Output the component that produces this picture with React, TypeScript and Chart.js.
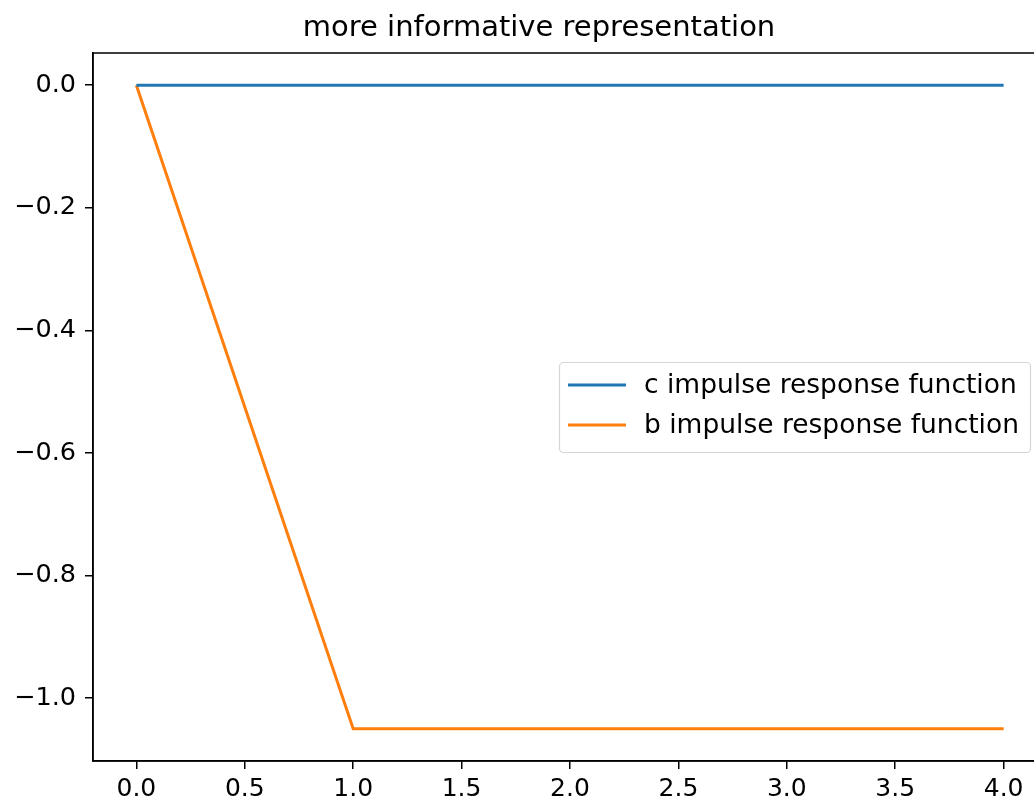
import React, { useEffect, useRef } from "react";
import { Chart, registerables } from "chart.js";

Chart.register(...registerables);

const xValues = [0, 1, 2, 3, 4];
const cValues = [0, 0, 0, 0, 0];
const bValues = [0, -1.05, -1.05, -1.05, -1.05];
const xTicks = [0, 0.5, 1, 1.5, 2, 2.5, 3, 3.5, 4];
const yTicks = [0, -0.2, -0.4, -0.6, -0.8, -1.0];
const seriesLabels = ["c impulse response function", "b impulse response function"];
const seriesColors = ["#1f77b4", "#ff7f0e"];
const titleText = "more informative representation";

const FONT = "'DejaVu Sans', sans-serif";
const CW = 1060;
const CH = 809;

const fmt = (v: number) => {
  const s = Math.abs(v).toFixed(1);
  return v < -1e-9 ? "\u2212" + s : s;
};

const framePlugin = {
  id: "frame",
  afterDraw(chart: any) {
    const { ctx, chartArea } = chart;
    ctx.save();
    ctx.strokeStyle = "#000";
    ctx.lineWidth = 1.5;
    ctx.strokeRect(chartArea.left, chartArea.top, chartArea.right - chartArea.left, chartArea.bottom - chartArea.top);
    // title
    ctx.fillStyle = "#000";
    ctx.font = `29px ${FONT}`;
    ctx.textAlign = "center";
    ctx.textBaseline = "alphabetic";
    ctx.fillText(titleText, 539, 36);
    // legend
    const bx = 559.5, by = 362.5, bw = 471, bh = 90;
    ctx.beginPath();
    ctx.roundRect(bx, by, bw, bh, 4);
    ctx.fillStyle = "rgba(255,255,255,0.8)";
    ctx.fill();
    ctx.strokeStyle = "#d6d6d6";
    ctx.lineWidth = 1.2;
    ctx.stroke();
    chart.data.datasets.forEach((ds: any, i: number) => {
      const y = 385 + i * 40;
      ctx.beginPath();
      ctx.moveTo(568, y);
      ctx.lineTo(626, y);
      ctx.strokeStyle = ds.borderColor;
      ctx.lineWidth = 3;
      ctx.stroke();
      ctx.fillStyle = "#000";
      ctx.font = `26.5px ${FONT}`;
      ctx.textAlign = "left";
      ctx.textBaseline = "middle";
      ctx.fillText(ds.label, 644, y + 1);
    });
    ctx.restore();
  },
};

export default function App() {
  const ref = useRef<HTMLCanvasElement | null>(null);
  useEffect(() => {
    if (!ref.current) return;
    const chart = new Chart(ref.current, {
      type: "line",
      data: {
        datasets: [cValues, bValues].map((vals, i) => ({
          label: seriesLabels[i],
          data: xValues.map((x, j) => ({ x, y: vals[j] })),
          borderColor: seriesColors[i],
          backgroundColor: seriesColors[i],
          borderWidth: 3,
          pointRadius: 0,
          tension: 0,
          fill: false,
        })),
      },
      options: {
        responsive: false,
        animation: false,
        devicePixelRatio: 1,
        layout: { padding: { top: 53, right: CW - 1047, bottom: 0, left: 0 } },
        plugins: { legend: { display: false }, title: { display: false }, tooltip: { enabled: false } },
        scales: {
          x: {
            type: "linear",
            min: -0.2,
            max: 4.2,
            afterBuildTicks: (s: any) => {
              s.ticks = xTicks.map((v) => ({ value: v }));
            },
            afterFit: (s: any) => {
              s.height = CH - 761;
            },
            ticks: {
              autoSkip: false,
              maxRotation: 0,
              color: "#000",
              padding: 5,
              font: { family: FONT, size: 25 },
              callback: (v: any) => fmt(Number(v)),
            },
            grid: { drawOnChartArea: false, drawTicks: true, tickLength: 8, color: "#000", lineWidth: 1.5 },
            border: { display: true, color: "#000", width: 1.5 },
          },
          y: {
            type: "linear",
            min: -1.1025,
            max: 0.0525,
            afterBuildTicks: (s: any) => {
              s.ticks = yTicks.map((v) => ({ value: v }));
            },
            afterFit: (s: any) => {
              s.width = 93;
            },
            ticks: {
              autoSkip: false,
              color: "#000",
              padding: 9,
              font: { family: FONT, size: 25.5 },
              callback: (v: any) => fmt(Number(v)),
            },
            grid: { drawOnChartArea: false, drawTicks: true, tickLength: 8, color: "#000", lineWidth: 1.5 },
            border: { display: true, color: "#000", width: 1.5 },
          },
        },
      },
      plugins: [framePlugin],
    });
    return () => chart.destroy();
  }, []);
  return (
    <div style={{ position: "fixed", left: 0, top: 0, width: 1034, height: 809, overflow: "hidden", background: "#fff" }}>
      <canvas ref={ref} width={CW} height={CH} style={{ width: CW, height: CH, display: "block" }} />
    </div>
  );
}
